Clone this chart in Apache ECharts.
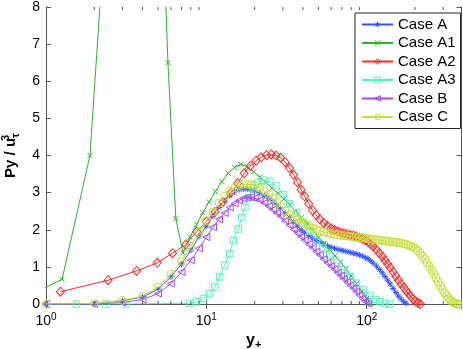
<!DOCTYPE html>
<html><head><meta charset="utf-8">
<script src="https://cdn.jsdelivr.net/npm/echarts@6/dist/echarts.min.js"></script>
<style>html,body{margin:0;padding:0;background:#fff}#c{width:463px;height:349px}</style>
</head><body><div id="c"></div><script>
const seriesNames = ['Case A', 'Case A1', 'Case A2', 'Case A3', 'Case B', 'Case C'];
const seriesColors = ['#3355ff', '#2fb02f', '#ff2a2a', '#55f2c2', '#a347ff', '#c6de35'];

// shared y+ grid for cases A, B, C
const yPlusABC = [1,2,3,4,5,6,7,8,9,10,11,12,13,14,15,16,17,18,19,20,
  21.5,23,24.5,26,27.5,29,31,33,35,37,39,41,43.5,46,48.5,51,
  54,57,60,63,66,69,72,75.5,79,82.5,86,90,94,98,102,106,110,
  115,120,125,130,135,140,146,152,158,164,170,176,182,188,
  195,202,209,216,223,230,238,246,254,262,270,
  279,288,297,306,315,324,333,342,351,360,370,380];
const caseA = [0,0.01,0.09,0.19,0.4,0.73,1.07,1.45,1.82,2.1,2.37,2.6,2.78,2.92,3.02,3.08,3.1,3.1,3.08,3.05,
  2.99,2.92,2.84,2.75,2.66,2.57,2.45,2.33,2.21,2.1,2.0,1.92,1.84,1.77,1.71,1.66,
  1.61,1.57,1.53,1.5,1.47,1.45,1.43,1.41,1.39,1.37,1.35,1.32,1.29,1.25,1.21,1.16,1.1,
  1.02,0.93,0.84,0.74,0.64,0.54,0.42,0.31,0.21,0.13,0.06,0.02];
const caseB = [0,0,0.04,0.12,0.28,0.55,0.86,1.18,1.5,1.8,2.07,2.28,2.45,2.6,2.71,2.79,2.84,2.87,2.87,2.85,
  2.8,2.72,2.63,2.54,2.45,2.36,2.24,2.12,2.01,1.91,1.81,1.72,1.61,1.51,1.41,1.32,
  1.21,1.11,1.02,0.93,0.84,0.76,0.68,0.59,0.5,0.42,0.33,0.24,0.15,0.07,0.01];
const caseC = [0,0.01,0.1,0.21,0.46,0.8,1.15,1.55,1.92,2.24,2.48,2.72,2.9,3.04,3.13,3.19,3.22,3.22,3.21,3.18,
  3.12,3.04,2.95,2.85,2.74,2.63,2.51,2.41,2.33,2.27,2.21,2.16,2.1,2.05,2.01,1.97,
  1.94,1.91,1.89,1.87,1.86,1.85,1.84,1.83,1.82,1.81,1.8,1.79,1.78,1.77,1.76,1.75,1.74,
  1.73,1.72,1.71,1.7,1.69,1.68,1.67,1.66,1.65,1.64,1.62,1.61,1.59,1.56,
  1.53,1.49,1.43,1.36,1.29,1.21,1.11,1.01,0.91,0.81,0.71,
  0.6,0.49,0.39,0.3,0.22,0.15,0.1,0.06,0.03,0.01,0,0];

const yPlusA1 = [0.63,1.26,1.88,2.5,3.13,3.76,4.4,5.1,5.76,6.45,7.14,7.9,8.7,9.5,10.4,11.4,12.5,13.7,15,16.4,
  18,19.7,21.5,23.5,25.7,28,30.5,33.2,36.1,39.2,42.5,46,50,54.2,58.7,63.5,68.6,74,80,86.5,93.3,100,106];
const caseA1 = [0,0.67,4.0,12,15,17,16,12.8,6.5,2.3,1.38,1.8,2.15,2.46,2.75,3.03,3.3,3.52,3.68,3.76,
  3.7,3.56,3.42,3.27,3.12,2.98,2.83,2.67,2.5,2.33,2.16,1.98,1.8,1.63,1.46,1.3,1.13,0.95,0.76,0.55,0.34,0.15,0];

const yPlusA2 = [1.23,2.44,3.67,4.94,6.15,7.44,8.7,10,11.3,12.7,14.2,15.7,17.2,18.8,20.4,22,23.7,25.4,27.2,29,
  31,33,35,37,39,41,43.5,46,48.5,51,54,57,60,63,66,69,72,75.5,79,82.5,86,90,94,98,102,106,110,
  115,120,125,130,135,140,146,152,158,164,170,176,182,188,195,202,209,216];
const caseA2 = [0.33,0.64,0.89,1.11,1.37,1.6,1.95,2.22,2.48,2.75,3.0,3.25,3.52,3.72,3.86,3.95,4.01,4.03,4.0,3.94,
  3.82,3.66,3.48,3.28,3.08,2.9,2.7,2.52,2.39,2.28,2.18,2.1,2.04,1.99,1.95,1.92,1.9,1.88,1.86,1.84,1.82,1.79,1.76,1.72,1.67,1.61,1.55,
  1.46,1.37,1.28,1.18,1.08,0.98,0.86,0.75,0.64,0.54,0.45,0.36,0.28,0.2,0.13,0.07,0.03,0];

const yPlusA3 = [0.79,1.55,2.36,3.15,7.9,8.7,9.6,10.5,11.3,12.1,13,14,14.7,15.8,16.6,17.4,18.2,19.6,21,22.6,
  24.9,27.4,30.1,33.1,36.5,40.1,44.2,48.6,53.4,58.8,64.7,71.2,78.3,86.3,94.8,104.4,114,121,130,139];
const caseA3 = [0,0,0,0,0.02,0.06,0.15,0.28,0.46,0.73,1.04,1.35,1.71,2.02,2.33,2.6,2.86,3.13,3.26,3.33,
  3.3,3.18,2.95,2.7,2.46,2.2,1.96,1.72,1.52,1.31,1.12,0.92,0.74,0.56,0.39,0.23,0.12,0.06,0.02,0];

const yTickLabels = ['0','1','2','3','4','5','6','7','8'];
const minorTickValues = [2,3,4,5,6,7,8,9,20,30,40,50,60,70,80,90,200,300];

const F = 'Liberation Sans, Arial, Helvetica, sans-serif';
const pairs = (xs, ys) => ys.map((v, i) => [xs[i], v]);

const symbols = [
  'path://M0,-1L0,1M-1,0L1,0M-0.7,-0.7L0.7,0.7M-0.7,0.7L0.7,-0.7',
  'path://M-1,-1L1,1M-1,1L1,-1',
  'diamond',
  'rect',
  'path://M0,5L9,0L9,10Z',
  'circle'
];
const symbolSizes = [6, 5, [8, 9], 6.5, 7, 8];
const dataSets = [
  pairs(yPlusABC, caseA), pairs(yPlusA1, caseA1), pairs(yPlusA2, caseA2),
  pairs(yPlusA3, caseA3), pairs(yPlusABC, caseB), pairs(yPlusABC, caseC)
];

const lineSeries = seriesNames.map((name, i) => ({
  name, type: 'line', data: dataSets[i],
  symbol: symbols[i], symbolSize: symbolSizes[i], showAllSymbol: true,
  lineStyle: { color: seriesColors[i], width: 1 },
  itemStyle: { color: 'rgba(0,0,0,0)', borderColor: seriesColors[i], borderWidth: 1 },
  emphasis: { disabled: true }, clip: true, z: 2 + i
}));

const tickSeries = {
  type: 'custom', silent: true, clip: false, z: 20,
  data: minorTickValues.map(v => [v, 0]),
  renderItem: (params, api) => {
    const x = api.value(0);
    const pb = api.coord([x, 0]);
    const pt = api.coord([x, 8]);
    const st = { stroke: '#555', lineWidth: 1 };
    return { type: 'group', children: [
      { type: 'line', shape: { x1: pb[0], y1: pb[1], x2: pb[0], y2: pb[1] - 3 }, style: st },
      { type: 'line', shape: { x1: pt[0], y1: pt[1], x2: pt[0], y2: pt[1] + 3 }, style: st }
    ]};
  }
};

const axisLineStyle = { color: '#555', width: 1 };
const chart = echarts.init(document.getElementById('c'), null, { renderer: 'canvas' });
chart.setOption({
  animation: false,
  backgroundColor: '#fff',
  grid: { left: 46, right: 1.5, top: 7, bottom: 45, containLabel: false, outerBoundsMode: 'none' },
  legend: {
    data: seriesNames, orient: 'vertical', left: 355, top: 13,
    itemWidth: 31, itemHeight: 7, itemGap: 3.5,
    padding: [4, 5, 4, 6],
    itemStyle: { color: 'rgba(0,0,0,0)', borderWidth: 1 },
    backgroundColor: '#fff', borderColor: '#222', borderWidth: 1, borderRadius: 0,
    textStyle: { fontFamily: F, fontSize: 15, color: '#000' }
  },
  xAxis: [{
    type: 'log', logBase: 10, min: 1, max: 390,
    name: '{m|y}{s|+}', nameLocation: 'middle', nameGap: 24,
    nameTextStyle: { rich: {
      m: { fontFamily: F, fontSize: 16, fontWeight: 'bold', color: '#000' },
      s: { fontFamily: F, fontSize: 11, fontWeight: 'bold', color: '#000', verticalAlign: 'bottom', padding: [8, 0, 0, 0] }
    }},
    axisLine: { show: true, lineStyle: axisLineStyle },
    axisTick: { show: true, inside: true, length: 5, lineStyle: axisLineStyle },
    splitLine: { show: false },
    axisLabel: {
      margin: 8, showMaxLabel: false,
      formatter: v => '{b|10}{s|' + Math.round(Math.log10(v)) + '}',
      rich: {
        b: { fontFamily: F, fontSize: 14, color: '#000' },
        s: { fontFamily: F, fontSize: 10, color: '#000', verticalAlign: 'top', padding: [0, 0, 8, 0] }
      }
    }
  }, {
    type: 'log', logBase: 10, min: 1, max: 390, position: 'top',
    axisLine: { show: true, lineStyle: axisLineStyle },
    axisTick: { show: true, inside: true, length: 5, lineStyle: axisLineStyle },
    axisLabel: { show: false }, splitLine: { show: false }
  }],
  yAxis: [{
    type: 'value', min: 0, max: 8, interval: 1,
    name: '{m|Py / u}{p|3}{s|τ}', nameLocation: 'middle', nameGap: 24, nameRotate: 90,
    nameTextStyle: { rich: {
      m: { fontFamily: F, fontSize: 15, fontWeight: 'bold', color: '#000' },
      p: { fontFamily: F, fontSize: 11, fontWeight: 'bold', color: '#000', verticalAlign: 'top', width: 0 },
      s: { fontFamily: F, fontSize: 11, fontWeight: 'bold', color: '#000', verticalAlign: 'bottom', padding: [10, 0, 0, 0] }
    }},
    axisLine: { show: true, lineStyle: axisLineStyle },
    axisTick: { show: true, inside: true, length: 5, lineStyle: axisLineStyle },
    splitLine: { show: false },
    axisLabel: { margin: 6, fontFamily: F, fontSize: 14, color: '#000',
      formatter: v => yTickLabels[Math.round(v)] }
  }, {
    type: 'value', min: 0, max: 8, interval: 1, position: 'right',
    axisLine: { show: true, lineStyle: axisLineStyle },
    axisTick: { show: true, inside: true, length: 5, lineStyle: axisLineStyle },
    axisLabel: { show: false }, splitLine: { show: false }
  }],
  series: lineSeries.concat([tickSeries])
});
</script></body></html>
